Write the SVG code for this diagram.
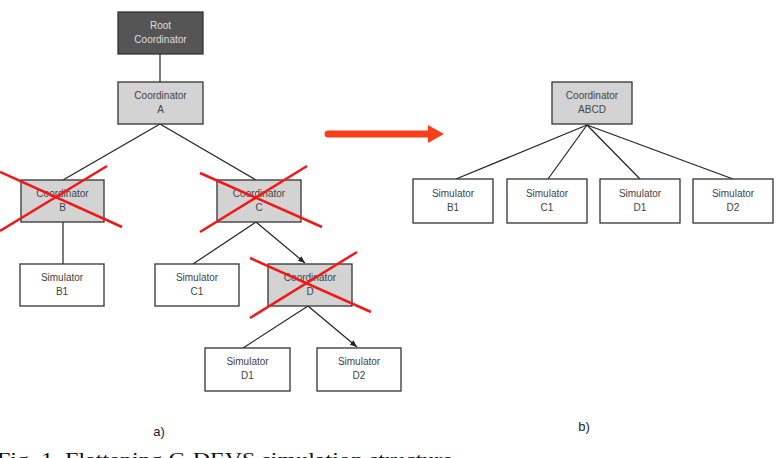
<svg xmlns="http://www.w3.org/2000/svg" width="778" height="458" viewBox="0 0 778 458">
<defs>
<style>
.box{stroke:#333;stroke-width:1.3;}
.coord{fill:#d3d3d3;}
.sim{fill:#fff;}
.root{fill:#555;}
.t{font-family:"Liberation Sans",Arial,sans-serif;font-size:10px;fill:#444;text-anchor:middle;}
.tr{font-family:"Liberation Sans",Arial,sans-serif;font-size:10px;fill:#ddd;text-anchor:middle;}
.ln{stroke:#222;stroke-width:1.2;fill:none;}
.x{stroke:#f01818;stroke-width:2.5;}
.lbl{font-family:"Liberation Sans",Arial,sans-serif;font-size:13px;fill:#222;text-anchor:middle;}
</style>
<marker id="ah" viewBox="0 0 10 10" refX="10" refY="5" markerWidth="7" markerHeight="7" orient="auto" markerUnits="userSpaceOnUse">
<path d="M0,1 L10,5 L0,9 z" fill="#222"/>
</marker>
</defs>
<rect width="778" height="458" fill="#fff"/>
<g id="connectors">
<line class="ln" x1="160" y1="54" x2="160" y2="82"/>
<line class="ln" x1="160" y1="124" x2="63" y2="180"/>
<line class="ln" x1="160" y1="124" x2="256" y2="180"/>
<line class="ln" x1="63" y1="222" x2="63" y2="264"/>
<line class="ln" x1="256" y1="222" x2="193" y2="264"/>
<line class="ln" x1="256" y1="222" x2="305" y2="263" marker-end="url(#ah)"/>
<line class="ln" x1="308" y1="306" x2="243" y2="348"/>
<line class="ln" x1="308" y1="306" x2="357" y2="347" marker-end="url(#ah)"/>
<line class="ln" x1="587" y1="125" x2="456" y2="179"/>
<line class="ln" x1="587" y1="125" x2="548" y2="179"/>
<line class="ln" x1="587" y1="125" x2="640" y2="179"/>
<line class="ln" x1="587" y1="125" x2="733" y2="179"/>
</g>
<g id="root-coordinator"><rect class="box root" x="118" y="12" width="85" height="42"/><text class="tr" x="160.5" y="29">Root</text><text class="tr" x="160.5" y="43">Coordinator</text></g>
<g id="coordinator-a"><rect class="box coord" x="118" y="82" width="85" height="42"/><text class="t" x="160.5" y="99">Coordinator</text><text class="t" x="160.5" y="113">A</text></g>
<g id="coordinator-b"><rect class="box coord" x="21" y="180" width="83" height="42"/><text class="t" x="62.5" y="197">Coordinator</text><text class="t" x="62.5" y="211">B</text></g>
<g id="coordinator-c"><rect class="box coord" x="217" y="180" width="84" height="42"/><text class="t" x="259" y="197">Coordinator</text><text class="t" x="259" y="211">C</text></g>
<g id="simulator-b1"><rect class="box sim" x="20" y="264" width="84" height="42"/><text class="t" x="62" y="281">Simulator</text><text class="t" x="62" y="295">B1</text></g>
<g id="simulator-c1"><rect class="box sim" x="155" y="264" width="84" height="42"/><text class="t" x="197" y="281">Simulator</text><text class="t" x="197" y="295">C1</text></g>
<g id="coordinator-d"><rect class="box coord" x="268" y="264" width="84" height="42"/><text class="t" x="310" y="281">Coordinator</text><text class="t" x="310" y="295">D</text></g>
<g id="simulator-d1"><rect class="box sim" x="205" y="348" width="85" height="43"/><text class="t" x="247.5" y="365">Simulator</text><text class="t" x="247.5" y="379">D1</text></g>
<g id="simulator-d2"><rect class="box sim" x="317" y="348" width="84" height="43"/><text class="t" x="359" y="365">Simulator</text><text class="t" x="359" y="379">D2</text></g>
<g id="crosses">
<line class="x" x1="0" y1="172" x2="122" y2="227"/>
<line class="x" x1="107" y1="166" x2="0" y2="231"/>
<line class="x" x1="200" y1="173" x2="322" y2="227"/>
<line class="x" x1="307" y1="166" x2="200" y2="232"/>
<line class="x" x1="250" y1="258" x2="371" y2="312"/>
<line class="x" x1="357" y1="252" x2="250" y2="318"/>
</g>
<g id="transform-arrow">
<line x1="328" y1="134" x2="430" y2="134" stroke="#f5401a" stroke-width="7" stroke-linecap="round"/>
<path d="M428,125 L444,134 L428,143 z" fill="#f5401a"/>
</g>
<g id="coordinator-abcd"><rect class="box coord" x="552" y="82" width="80" height="42"/><text class="t" x="592" y="99">Coordinator</text><text class="t" x="592" y="113">ABCD</text></g>
<g id="flat-simulator-b1"><rect class="box sim" x="413" y="179" width="80" height="44"/><text class="t" x="453" y="197">Simulator</text><text class="t" x="453" y="211">B1</text></g>
<g id="flat-simulator-c1"><rect class="box sim" x="507" y="179" width="80" height="44"/><text class="t" x="547" y="197">Simulator</text><text class="t" x="547" y="211">C1</text></g>
<g id="flat-simulator-d1"><rect class="box sim" x="600" y="179" width="80" height="44"/><text class="t" x="640" y="197">Simulator</text><text class="t" x="640" y="211">D1</text></g>
<g id="flat-simulator-d2"><rect class="box sim" x="693" y="179" width="80" height="44"/><text class="t" x="733" y="197">Simulator</text><text class="t" x="733" y="211">D2</text></g>
<text class="lbl" x="159" y="436">a)</text>
<text class="lbl" x="584" y="431">b)</text>
<text x="-3" y="466" font-family="'Liberation Serif','Times New Roman',serif" font-size="19" fill="#111" textLength="456" lengthAdjust="spacingAndGlyphs">Fig. 1. Flattening C-DEVS simulation structure</text>
</svg>
